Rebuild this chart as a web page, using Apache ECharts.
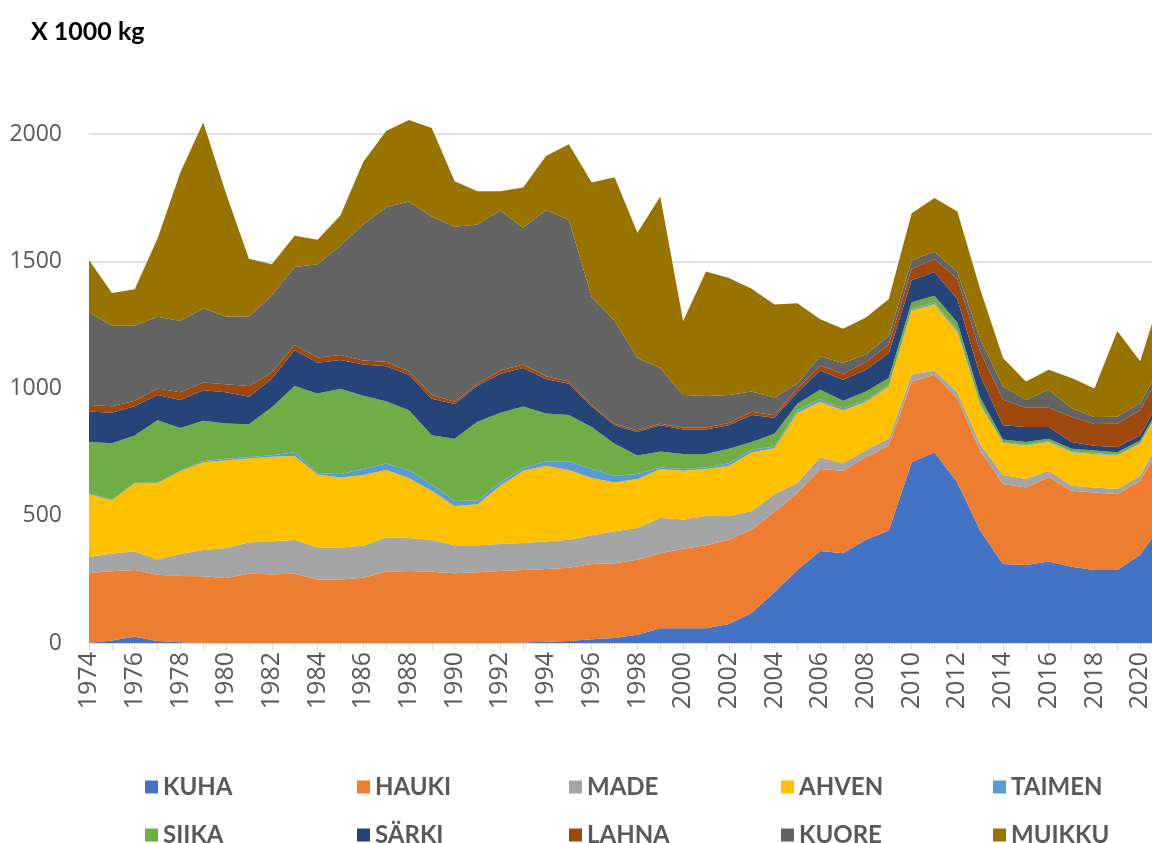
<!DOCTYPE html>
<html>
<head>
<meta charset="utf-8">
<script src="https://cdn.jsdelivr.net/npm/echarts@6/dist/echarts.min.js"></script>
<style>
  html, body { margin:0; padding:0; background:#fff; }
  #chart { width:1152px; height:843px; }
</style>
</head>
<body>
<div id="chart"></div>
<script>
const years = ['1974','1975','1976','1977','1978','1979','1980','1981','1982','1983',
               '1984','1985','1986','1987','1988','1989','1990','1991','1992','1993',
               '1994','1995','1996','1997','1998','1999','2000','2001','2002','2003',
               '2004','2005','2006','2007','2008','2009','2010','2011','2012','2013',
               '2014','2015','2016','2017','2018','2019','2020','2021'];

// x 1000 kg, bottom layer first
const kuha   = [0,10,25,8,3,0,0,0,0,0, 0,0,0,0,0,0,0,0,0,2, 5,8,15,20,32,58,58,58,75,119, 200,287,362,353,406,442,710,750,631,442, 310,307,320,300,287,287,347,472];
const hauki  = [275,272,262,260,260,262,255,272,270,272, 250,250,256,280,283,280,274,278,283,285, 286,288,295,293,295,295,312,326,331,327, 315,303,322,324,324,334,318,304,331,313, 315,304,331,298,304,298,291,318];
const made   = [63,70,73,60,87,103,118,123,130,133, 125,125,126,135,130,126,110,106,106,106, 108,110,113,126,125,139,115,115,93,73, 70,40,46,29,27,27,26,17,22,27, 35,33,26,20,20,20,19,32];
const ahven  = [247,208,268,300,325,345,345,330,332,330, 287,275,278,265,235,192,154,161,229,284, 298,274,225,192,192,192,192,185,198,231, 180,275,218,209,191,205,252,261,238,153, 126,132,113,132,132,132,126,113];
const taimen = [2,2,2,2,3,5,6,6,6,15, 6,14,24,25,32,26,20,15,13,11, 17,34,36,26,20,6,7,6,9,9, 7,10,10,7,7,5,6,7,8,5, 4,2,3,3,3,3,3,3];
const siika  = [203,223,185,245,167,158,139,129,188,260, 312,335,288,245,235,192,245,309,274,241, 188,182,165,126,73,63,59,53,57,31, 50,25,37,30,33,28,27,26,29,25, 10,12,10,10,10,10,10,15];
const sarki  = [120,120,115,100,110,120,122,108,112,140, 121,113,122,138,139,144,136,142,153,152, 135,123,80,73,92,103,96,96,93,106, 63,45,76,82,86,99,86,93,93,87, 56,59,46,27,19,20,20,25];
const lahna  = [25,25,22,25,30,31,32,42,25,21, 21,20,16,17,13,15,9,8,13,13, 11,9,6,6,7,6,8,8,9,13, 10,15,19,24,29,33,46,50,79,93, 100,75,75,99,86,92,99,100];
const kuore  = [365,318,296,282,280,291,266,273,303,307, 366,430,535,607,668,701,688,626,629,538, 654,635,425,404,284,219,128,124,110,79, 70,20,37,42,31,33,33,29,27,50, 52,31,71,33,27,27,27,25];
const muikku = [205,127,142,308,585,730,482,227,122,122, 97,118,245,300,320,348,179,130,75,158, 212,297,450,564,492,674,290,489,459,404, 365,315,145,135,145,146,185,212,238,195, 112,73,79,119,112,337,165,289];

const names  = ['KUHA','HAUKI','MADE','AHVEN','TAIMEN','SIIKA','SÄRKI','LAHNA','KUORE','MUIKKU'];
const values = [kuha, hauki, made, ahven, taimen, siika, sarki, lahna, kuore, muikku];
const colors = ['#4472C4','#ED7D31','#A5A5A5','#FFC000','#5B9BD5','#70AD47','#264478','#9E480E','#636363','#997300'];

let myChart = echarts.init(document.getElementById('chart'));

const seriesData = names.map((name, i) => ({
    type:'line',
    name:name,
    stack:'total',
    symbol:'none',
    lineStyle:{ width:0 },
    areaStyle:{ opacity:1 },
    data:values[i]
}));

// one legend per item, 5 columns x 2 rows like the original
const legends = names.map((name, i) => ({
    data:[name],
    left:140 + (i % 5) * 212,
    top:i < 5 ? 770 : 818,
    icon:'rect',
    itemWidth:13,
    itemHeight:13,
    itemGap:0,
    textStyle:{
        fontFamily:'Lato',
        fontWeight:'bold',
        fontSize:24,
        color:'#595959'
    }
}));

let option = {
    color:colors,
    animation:false,
    title:{
        text:'X 1000 kg',
        left:26,
        top:14,
        textStyle:{ fontFamily:'Lato', fontWeight:'bold', fontSize:25, color:'#000' }
    },
    legend:legends,
    grid:{
        left:89,
        width:1074,
        top:108.6,
        bottom:200,
        outerBoundsMode:'none'
    },
    xAxis:{
        type:'category',
        boundaryGap:false,
        data:years,
        axisLine:{ lineStyle:{ color:'#d9d9d9' } },
        axisTick:{ show:true, interval:0, length:7, lineStyle:{ color:'#d9d9d9' } },
        axisLabel:{
            interval:1,
            rotate:90,
            margin:9,
            fontFamily:'Open Sans',
            fontSize:25,
            color:'#595959'
        },
        splitLine:{ show:false }
    },
    yAxis:{
        type:'value',
        min:0,
        max:2100,
        interval:500,
        axisLine:{ show:false },
        axisTick:{ show:false },
        axisLabel:{
            margin:27,
            showMaxLabel:false,
            formatter:v => String(v),
            fontFamily:'Open Sans',
            fontSize:23,
            color:'#595959'
        },
        splitLine:{
            show:true,
            showMaxLine:false,
            lineStyle:{ color:'#d9d9d9', width:1.5 }
        }
    },
    series:seriesData
};
myChart.setOption(option);
</script>
</body>
</html>
